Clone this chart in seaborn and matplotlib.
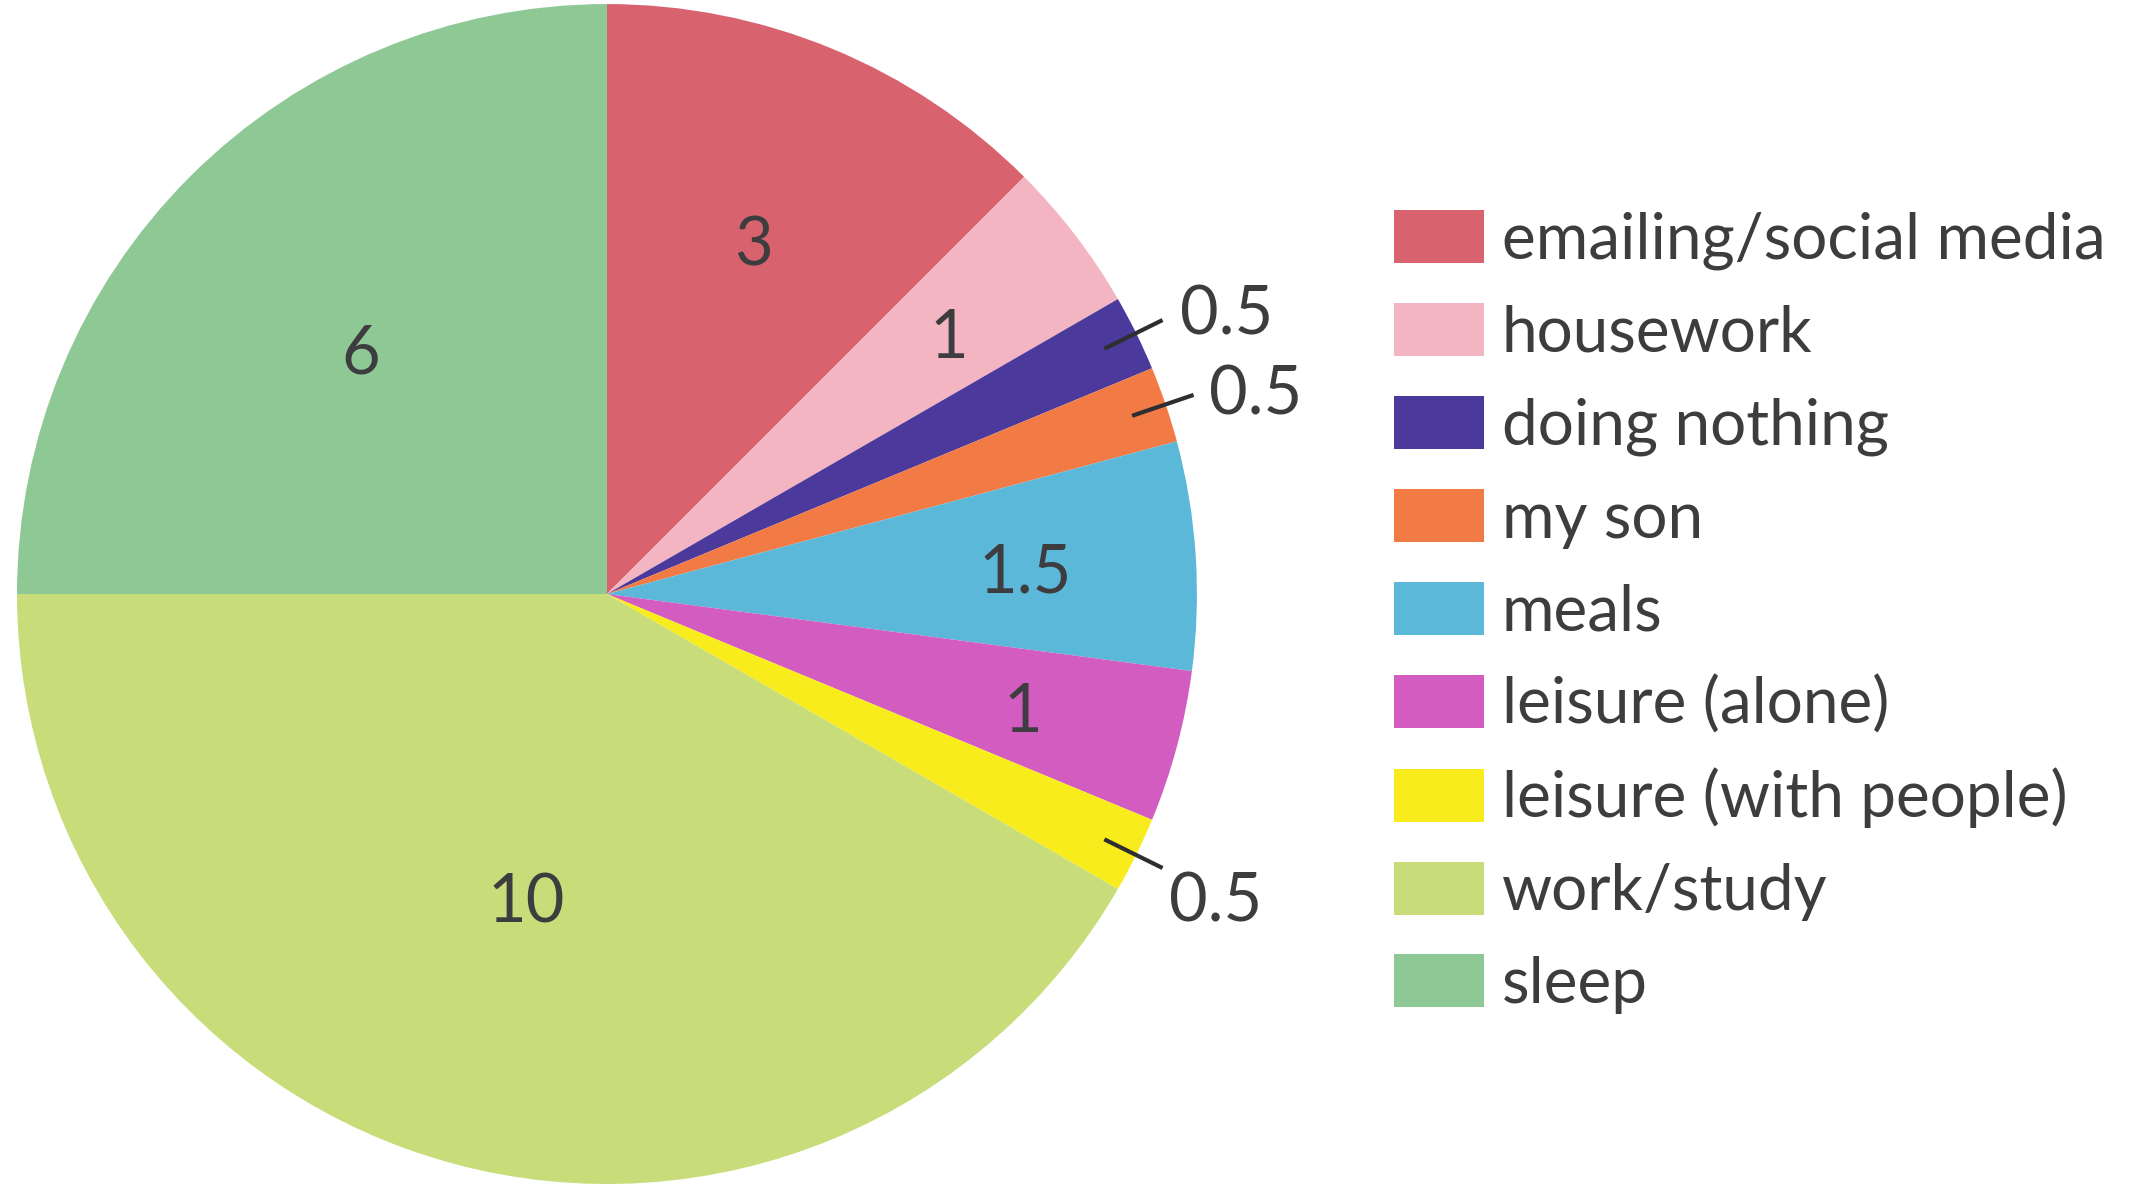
import numpy as np
import matplotlib
matplotlib.use("Agg")
import matplotlib.pyplot as plt
import seaborn as sns

# Hours per day spent on each activity
activities = ["emailing/social media", "housework", "doing nothing", "my son", "meals",
              "leisure (alone)", "leisure (with people)", "work/study", "sleep"]
hours = [3, 1, 0.5, 0.5, 1.5, 1, 0.5, 10, 6]
value_labels = ["3", "1", "0.5", "0.5", "1.5", "1", "0.5", "10", "6"]
slice_colors = ["#d9626f", "#f3b5c2", "#4b3a9c", "#f27b45", "#5cb8d9",
                "#d35cc1", "#f9ec1c", "#c9dc7a", "#8ec995"]

sns.set_theme(style="white")
plt.rcParams["font.family"] = ["Lato", "DejaVu Sans"]
text_color = "#3d3d40"

fig = plt.figure(figsize=(21.44, 11.95), dpi=100)
fig.patch.set_facecolor("white")
ax = fig.add_axes([0.0079, 0.0092, 0.5504, 0.9874])

palette = sns.color_palette(slice_colors)
wedges, _ = ax.pie(hours, colors=palette, startangle=90, counterclock=False,
                   wedgeprops=dict(linewidth=0), radius=1.0)
ax.set_xlim(-1, 1)
ax.set_ylim(-1, 1)
ax.set_aspect("equal")
ax.axis("off")

# Label radius per slice; small slices get a leader line outside the pie
inside_r = {0: 0.65, 1: 0.73, 4: 0.71, 5: 0.73, 7: 0.53, 8: 0.59}
total = sum(hours)
start = 90.0
for i, (h, lab) in enumerate(zip(hours, value_labels)):
    sweep = 360.0 * h / total
    mid = np.deg2rad(start - sweep / 2)
    start -= sweep
    c, s = np.cos(mid), np.sin(mid)
    if i in inside_r:
        r = inside_r[i]
        ax.annotate(lab, (r * c, r * s), xytext=(0, -7), textcoords="offset pixels",
                    ha="center", va="center", fontsize=48, color=text_color)
    else:
        ax.plot([0.94 * c, 1.05 * c], [0.94 * s, 1.05 * s],
                color="#2e2e30", lw=3, solid_capstyle="butt", clip_on=False)
        ax.annotate(lab, (1.05 * c, 1.05 * s), xytext=(12 + 12 * s, 45 * s - 15),
                    textcoords="offset pixels", ha="left", va="center",
                    fontsize=48, color=text_color, annotation_clip=False)

leg = fig.legend(wedges, activities, loc="upper left",
                 bbox_to_anchor=(1394 / 2144, 1 - 210 / 1195),
                 frameon=False, fontsize=46, handlelength=1.41, handleheight=0.9,
                 handletextpad=0.28, labelspacing=0.52, borderpad=0, borderaxespad=0)
for t in leg.get_texts():
    t.set_color(text_color)

fig.savefig("out.png", dpi=100, facecolor="white")
